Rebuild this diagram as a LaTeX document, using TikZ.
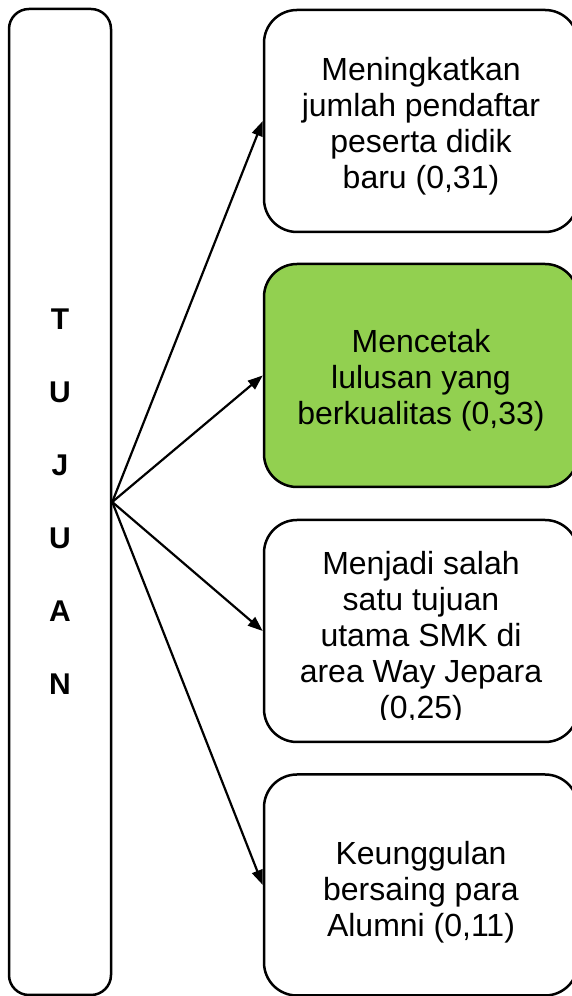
\documentclass[tikz,border=0pt]{standalone}
\usepackage{fontspec}
\setmainfont{Liberation Sans}
\usetikzlibrary{arrows.meta}
\definecolor{boxgreen}{HTML}{92D050}
\begin{document}
\begin{tikzpicture}[x=1pt,y=1pt,
  rbox/.style={draw=black, line width=2.5pt, rounded corners=33pt, minimum width=314pt, minimum height=222pt, inner sep=0pt},
  txt/.style={align=center, font=\fontsize{32}{36}\selectfont, text=black, inner sep=0pt},
  conn/.style={line width=2.2pt, -{Triangle[length=15pt,width=11pt]}}]
\useasboundingbox (0,0) rectangle (571,996);
\node[draw=black, line width=2.5pt, rounded corners=20pt, minimum width=102pt, minimum height=986pt, inner sep=0pt,
      align=center, font=\fontsize{30}{73}\selectfont\bfseries] (tujuan) at (60,494) {T\\U\\J\\U\\A\\N};
\node[rbox, minimum height=222pt] (b1) at (421,875) {};
\node[txt] (t1) at (421,870) {Meningkatkan\\jumlah pendaftar\\peserta didik\\baru (0,31)};
\node[rbox, fill=boxgreen, minimum height=223pt] (b2) at (421,620.5) {};
\node[txt] (t2) at (421,615.5) {Mencetak\\lulusan yang\\berkualitas (0,33)};
\node[rbox, minimum height=222pt] (b3) at (421,365) {};
\begin{scope}
  \clip (250,276.5) rectangle (590,480);
  \node[txt] (t3) at (421,358) {Menjadi salah\\satu tujuan\\utama SMK di\\area Way Jepara\\(0,25)};
\end{scope}
\node[rbox, minimum height=221pt] (b4) at (421,111) {};
\node[txt] (t4) at (421,104) {Keunggulan\\bersaing para\\Alumni (0,11)};
\draw[conn] (tujuan.east) -- (b1.west);
\draw[conn] (tujuan.east) -- (b2.west);
\draw[conn] (tujuan.east) -- (b3.west);
\draw[conn] (tujuan.east) -- (b4.west);
\end{tikzpicture}
\end{document}
